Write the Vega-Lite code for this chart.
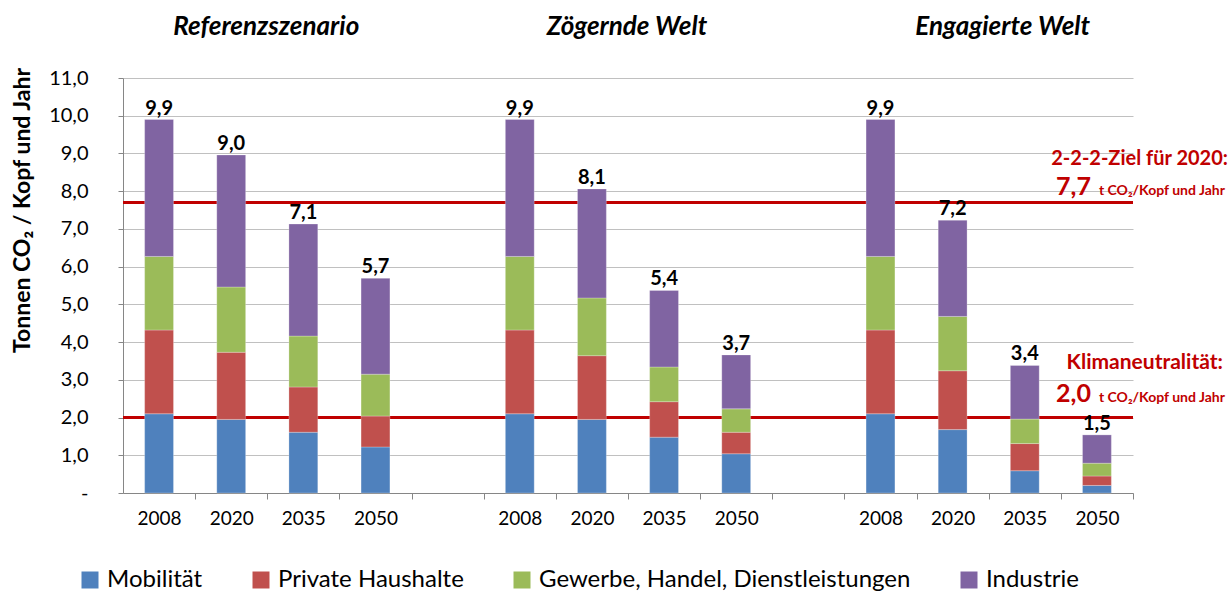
{
  "$schema": "https://vega.github.io/schema/vega-lite/v6.json",
  "width": 1010,
  "height": 415,
  "autosize": "none",
  "padding": {"left": 123, "top": 78, "right": 99, "bottom": 99},
  "background": "white",
  "config": {
    "view": {"stroke": null},
    "font": "Lato",
    "text": {"font": "Lato"},
    "axisY": {
      "labelExpr": "datum.value == 0 ? '-' : replace(format(datum.value, '.1f'), '.', ',')",
      "labelOverlap": false,
      "labelFontSize": 20,
      "labelColor": "#000000",
      "labelPadding": 30,
      "ticks": true,
      "tickSize": 5,
      "tickColor": "#868686",
      "domainColor": "#868686",
      "grid": true,
      "gridColor": "#C0C0C0",
      "titleFontSize": 23,
      "titleFontWeight": "bold",
      "titleColor": "#000000",
      "titleX": -101,
      "titleY": 132,
      "titleAlign": "center",
      "titleBaseline": "middle"
    }
  },
  "datasets": {
    "emissions": [
      {"slot": "R2008", "sector": "Mobilität", "value": 2.10},
      {"slot": "R2008", "sector": "Private Haushalte", "value": 2.22},
      {"slot": "R2008", "sector": "Gewerbe, Handel, Dienstleistungen", "value": 1.95},
      {"slot": "R2008", "sector": "Industrie", "value": 3.63},
      {"slot": "R2020", "sector": "Mobilität", "value": 1.95},
      {"slot": "R2020", "sector": "Private Haushalte", "value": 1.78},
      {"slot": "R2020", "sector": "Gewerbe, Handel, Dienstleistungen", "value": 1.73},
      {"slot": "R2020", "sector": "Industrie", "value": 3.50},
      {"slot": "R2035", "sector": "Mobilität", "value": 1.61},
      {"slot": "R2035", "sector": "Private Haushalte", "value": 1.20},
      {"slot": "R2035", "sector": "Gewerbe, Handel, Dienstleistungen", "value": 1.35},
      {"slot": "R2035", "sector": "Industrie", "value": 2.97},
      {"slot": "R2050", "sector": "Mobilität", "value": 1.22},
      {"slot": "R2050", "sector": "Private Haushalte", "value": 0.82},
      {"slot": "R2050", "sector": "Gewerbe, Handel, Dienstleistungen", "value": 1.11},
      {"slot": "R2050", "sector": "Industrie", "value": 2.54},
      {"slot": "Z2008", "sector": "Mobilität", "value": 2.10},
      {"slot": "Z2008", "sector": "Private Haushalte", "value": 2.22},
      {"slot": "Z2008", "sector": "Gewerbe, Handel, Dienstleistungen", "value": 1.95},
      {"slot": "Z2008", "sector": "Industrie", "value": 3.63},
      {"slot": "Z2020", "sector": "Mobilität", "value": 1.95},
      {"slot": "Z2020", "sector": "Private Haushalte", "value": 1.69},
      {"slot": "Z2020", "sector": "Gewerbe, Handel, Dienstleistungen", "value": 1.53},
      {"slot": "Z2020", "sector": "Industrie", "value": 2.89},
      {"slot": "Z2035", "sector": "Mobilität", "value": 1.48},
      {"slot": "Z2035", "sector": "Private Haushalte", "value": 0.94},
      {"slot": "Z2035", "sector": "Gewerbe, Handel, Dienstleistungen", "value": 0.92},
      {"slot": "Z2035", "sector": "Industrie", "value": 2.03},
      {"slot": "Z2050", "sector": "Mobilität", "value": 1.04},
      {"slot": "Z2050", "sector": "Private Haushalte", "value": 0.57},
      {"slot": "Z2050", "sector": "Gewerbe, Handel, Dienstleistungen", "value": 0.62},
      {"slot": "Z2050", "sector": "Industrie", "value": 1.43},
      {"slot": "E2008", "sector": "Mobilität", "value": 2.10},
      {"slot": "E2008", "sector": "Private Haushalte", "value": 2.22},
      {"slot": "E2008", "sector": "Gewerbe, Handel, Dienstleistungen", "value": 1.95},
      {"slot": "E2008", "sector": "Industrie", "value": 3.63},
      {"slot": "E2020", "sector": "Mobilität", "value": 1.68},
      {"slot": "E2020", "sector": "Private Haushalte", "value": 1.56},
      {"slot": "E2020", "sector": "Gewerbe, Handel, Dienstleistungen", "value": 1.44},
      {"slot": "E2020", "sector": "Industrie", "value": 2.55},
      {"slot": "E2035", "sector": "Mobilität", "value": 0.59},
      {"slot": "E2035", "sector": "Private Haushalte", "value": 0.72},
      {"slot": "E2035", "sector": "Gewerbe, Handel, Dienstleistungen", "value": 0.65},
      {"slot": "E2035", "sector": "Industrie", "value": 1.42},
      {"slot": "E2050", "sector": "Mobilität", "value": 0.20},
      {"slot": "E2050", "sector": "Private Haushalte", "value": 0.25},
      {"slot": "E2050", "sector": "Gewerbe, Handel, Dienstleistungen", "value": 0.34},
      {"slot": "E2050", "sector": "Industrie", "value": 0.75}
    ]
  },
  "layer": [
    {
      "data": {"values": [{"v": 7.7}, {"v": 2.0}]},
      "mark": {"type": "rule", "color": "#C00000", "strokeWidth": 3},
      "encoding": {"y": {"field": "v", "type": "quantitative", "title": "Tonnen CO₂ / Kopf und Jahr", "axis": {"values": [0, 1, 2, 3, 4, 5, 6, 7, 8, 9, 10, 11], "labelPadding": 30, "ticks": true, "tickSize": 5}}}
    },
    {
      "data": {"name": "emissions"},
      "transform": [
        {"calculate": "indexof(['Mobilität', 'Private Haushalte', 'Gewerbe, Handel, Dienstleistungen', 'Industrie'], datum.sector)", "as": "ord"}
      ],
      "mark": {"type": "bar", "stroke": "#FFFFFF", "strokeWidth": 0.5, "strokeOpacity": 0.5},
      "encoding": {
        "x": {
          "field": "slot",
          "type": "nominal",
          "title": null,
          "scale": {
            "domain": ["R2008", "R2020", "R2035", "R2050", "G1", "Z2008", "Z2020", "Z2035", "Z2050", "G2", "E2008", "E2020", "E2035", "E2050"],
            "paddingInner": 0.6,
            "paddingOuter": 0.3
          },
          "axis": {
            "labelExpr": "test(/^G/, datum.value) ? '' : slice(datum.value, 1)",
            "labelAngle": 0,
            "labelFontSize": 19,
            "labelColor": "#000000",
            "labelPadding": 10,
            "tickSize": 6,
            "bandPosition": 1,
            "tickOffset": 21.6,
            "labelOffset": -21.6,
            "tickColor": "#868686",
            "domainColor": "#868686",
            "grid": false
          }
        },
        "y": {
          "field": "value",
          "type": "quantitative",
          "stack": "zero",
          "title": "Tonnen CO₂ / Kopf und Jahr",
          "scale": {"domain": [0, 11], "nice": false, "zero": true},
          "axis": {"values": [0, 1, 2, 3, 4, 5, 6, 7, 8, 9, 10, 11], "labelPadding": 30, "ticks": true, "tickSize": 5}
        },
        "order": {"field": "ord", "type": "quantitative"},
        "color": {
          "field": "sector",
          "type": "nominal",
          "sort": ["Mobilität", "Private Haushalte", "Gewerbe, Handel, Dienstleistungen", "Industrie"],
          "scale": {
            "domain": ["Mobilität", "Private Haushalte", "Gewerbe, Handel, Dienstleistungen", "Industrie"],
            "range": ["#4F81BD", "#C0504D", "#9BBB59", "#8064A2"]
          },
          "legend": {
            "orient": "none",
            "legendX": -45,
            "legendY": 490,
            "direction": "horizontal",
            "title": null,
            "symbolType": "square",
            "symbolSize": 289,
            "symbolStrokeWidth": 0,
            "labelFontSize": 24,
            "labelColor": "#000000",
            "labelOffset": 5,
            "columnPadding": 46,
            "labelLimit": 600
          }
        }
      }
    },
    {
      "data": {"name": "emissions"},
      "transform": [
        {"aggregate": [{"op": "sum", "field": "value", "as": "total"}], "groupby": ["slot"]},
        {"calculate": "replace(format(datum.total, '.1f'), '.', ',')", "as": "label"}
      ],
      "mark": {"type": "text", "fontSize": 20, "fontWeight": "bold", "baseline": "alphabetic", "dy": -5, "color": "#000000"},
      "encoding": {
        "x": {"field": "slot", "type": "nominal"},
        "y": {"field": "total", "type": "quantitative", "title": "Tonnen CO₂ / Kopf und Jahr", "axis": {"values": [0, 1, 2, 3, 4, 5, 6, 7, 8, 9, 10, 11], "labelPadding": 30, "ticks": true, "tickSize": 5}},
        "text": {"field": "label"}
      }
    },
    {
      "data": {"values": [{"title": "Referenzszenario", "slot": "R2020", "v": 12.35}, {"title": "Zögernde Welt", "slot": "Z2020", "v": 12.35}]},
      "mark": {"type": "text", "fontSize": 26, "fontWeight": "bold", "fontStyle": "italic", "baseline": "middle", "dx": 35, "color": "#000000"},
      "encoding": {
        "x": {"field": "slot", "type": "nominal"},
        "y": {"field": "v", "type": "quantitative", "title": "Tonnen CO₂ / Kopf und Jahr", "axis": {"values": [0, 1, 2, 3, 4, 5, 6, 7, 8, 9, 10, 11], "labelPadding": 30, "ticks": true, "tickSize": 5}},
        "text": {"field": "title"}
      }
    },
    {
      "data": {"values": [{"title": "Engagierte Welt", "slot": "E2020", "v": 12.35}]},
      "mark": {"type": "text", "fontSize": 26, "fontWeight": "bold", "fontStyle": "italic", "baseline": "middle", "dx": 50, "color": "#000000"},
      "encoding": {
        "x": {"field": "slot", "type": "nominal"},
        "y": {"field": "v", "type": "quantitative", "title": "Tonnen CO₂ / Kopf und Jahr", "axis": {"values": [0, 1, 2, 3, 4, 5, 6, 7, 8, 9, 10, 11], "labelPadding": 30, "ticks": true, "tickSize": 5}},
        "text": {"field": "title"}
      }
    },
    {
      "data": {"values": [{"slot": "E2050", "t": "2-2-2-Ziel für 2020:", "v": 8.85}]},
      "mark": {"type": "text", "fontSize": 20, "fontWeight": "bold", "align": "right", "baseline": "middle", "dx": 131, "color": "#C00000"},
      "encoding": {"x": {"field": "slot", "type": "nominal"}, "y": {"field": "v", "type": "quantitative", "title": "Tonnen CO₂ / Kopf und Jahr", "axis": {"values": [0, 1, 2, 3, 4, 5, 6, 7, 8, 9, 10, 11], "labelPadding": 30, "ticks": true, "tickSize": 5}}, "text": {"field": "t"}}
    },
    {
      "data": {"values": [{"slot": "E2050", "t": "Klimaneutralität:", "v": 3.45}]},
      "mark": {"type": "text", "fontSize": 21, "fontWeight": "bold", "align": "right", "baseline": "middle", "dx": 126, "color": "#C00000"},
      "encoding": {"x": {"field": "slot", "type": "nominal"}, "y": {"field": "v", "type": "quantitative", "title": "Tonnen CO₂ / Kopf und Jahr", "axis": {"values": [0, 1, 2, 3, 4, 5, 6, 7, 8, 9, 10, 11], "labelPadding": 30, "ticks": true, "tickSize": 5}}, "text": {"field": "t"}}
    },
    {
      "data": {"values": [{"slot": "E2050", "t": "7,7", "v": 7.9}, {"slot": "E2050", "t": "2,0", "v": 2.41}]},
      "mark": {"type": "text", "fontSize": 25, "fontWeight": "bold", "align": "right", "baseline": "alphabetic", "dx": -6, "color": "#C00000"},
      "encoding": {"x": {"field": "slot", "type": "nominal"}, "y": {"field": "v", "type": "quantitative", "title": "Tonnen CO₂ / Kopf und Jahr", "axis": {"values": [0, 1, 2, 3, 4, 5, 6, 7, 8, 9, 10, 11], "labelPadding": 30, "ticks": true, "tickSize": 5}}, "text": {"field": "t"}}
    },
    {
      "data": {"values": [{"slot": "E2050", "t": "t CO₂/Kopf  und Jahr", "v": 7.9}, {"slot": "E2050", "t": "t CO₂/Kopf und Jahr", "v": 2.41}]},
      "mark": {"type": "text", "fontSize": 14, "fontWeight": "bold", "align": "left", "baseline": "alphabetic", "dx": 2, "color": "#C00000"},
      "encoding": {"x": {"field": "slot", "type": "nominal"}, "y": {"field": "v", "type": "quantitative", "title": "Tonnen CO₂ / Kopf und Jahr", "axis": {"values": [0, 1, 2, 3, 4, 5, 6, 7, 8, 9, 10, 11], "labelPadding": 30, "ticks": true, "tickSize": 5}}, "text": {"field": "t"}}
    }
  ]
}
